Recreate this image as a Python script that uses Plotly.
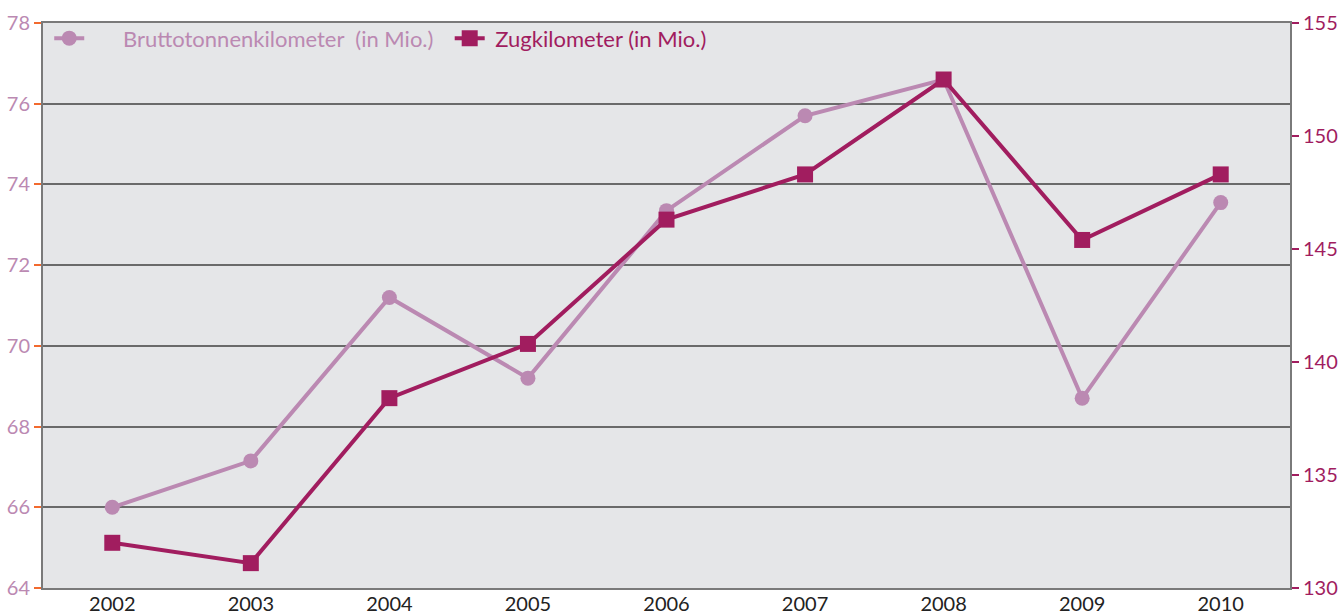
import plotly.graph_objects as go

years = ["2002", "2003", "2004", "2005", "2006", "2007", "2008", "2009", "2010"]
brutto = [66.0, 67.15, 71.2, 69.2, 73.35, 75.7, 76.6, 68.7, 73.55]
zugkm = [132.0, 131.1, 138.4, 140.8, 146.3, 148.3, 152.5, 145.4, 148.3]

left_ticks = [64, 66, 68, 70, 72, 74, 76, 78]
right_ticks = [130, 135, 140, 145, 150, 155]

c_light = "#bb89b2"
c_dark = "#a11d5f"
font_family = "Lato, 'Open Sans', sans-serif"

fig = go.Figure()
fig.add_trace(go.Scatter(
    x=years, y=brutto, mode="lines+markers",
    name=f"<span style='color:{c_light}'>&nbsp;&nbsp;&nbsp;&nbsp;&nbsp;&nbsp;Bruttotonnenkilometer  (in Mio.)&nbsp;&nbsp;</span>",
    line=dict(color=c_light, width=4),
    marker=dict(symbol="circle", size=15, color=c_light),
    yaxis="y",
))
fig.add_trace(go.Scatter(
    x=years, y=zugkm, mode="lines+markers",
    name=f"<span style='color:{c_dark}'>&nbsp;Zugkilometer (in Mio.)</span>",
    line=dict(color=c_dark, width=4),
    marker=dict(symbol="square", size=16, color=c_dark),
    yaxis="y2",
))

fig.update_layout(
    width=1340, height=616,
    margin=dict(l=43, r=50, t=23, b=28, autoexpand=False),
    paper_bgcolor="white",
    plot_bgcolor="#e5e6e8",
    font=dict(family=font_family, size=20),
    showlegend=True,
    legend=dict(
        orientation="h", x=0.005, y=1.01, xanchor="left", yanchor="top",
        bgcolor="rgba(0,0,0,0)", font=dict(size=22),
        tracegroupgap=0,
    ),
    xaxis=dict(
        type="category", range=[-0.5, 8.5], automargin=False,
        showline=True, linecolor="#7a7a7a", linewidth=2, mirror=True,
        showgrid=False, ticks="", tickfont=dict(color="#222222", size=20),
        ticklabelstandoff=-3,
        fixedrange=True,
    ),
    yaxis=dict(
        range=[64, 78], tickvals=left_ticks, automargin=False,
        showline=True, linecolor="#7a7a7a", linewidth=2,
        showgrid=True, gridcolor="#6a6a6a", gridwidth=1.5,
        ticks="outside", ticklen=7, tickcolor="#f26a2e", tickwidth=2,
        tickfont=dict(color=c_light, size=20),
        zeroline=False,
    ),
    yaxis2=dict(
        range=[130, 155], tickvals=right_ticks, automargin=False,
        overlaying="y", side="right",
        showline=True, linecolor="#7a7a7a", linewidth=2,
        showgrid=False,
        ticks="outside", ticklen=7, tickcolor=c_dark, tickwidth=2,
        tickfont=dict(color=c_dark, size=20),
        zeroline=False,
    ),
)

fig.write_html(
    "out.html",
    config={"displayModeBar": False},
    post_script="document.body.style.margin='0';document.body.style.overflow='hidden';",
)
